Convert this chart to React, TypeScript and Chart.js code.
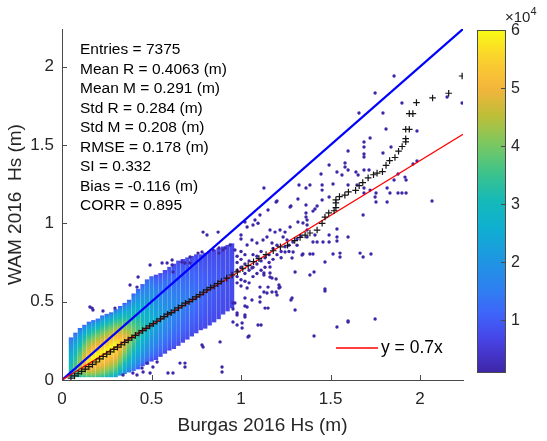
import React, { useEffect, useRef } from "react";
import { Chart, registerables } from "chart.js";

Chart.register(...registerables);

// ---------------- data ----------------
const X_TICKS = [0, 0.5, 1, 1.5, 2];
const Y_TICKS = [0, 0.5, 1, 1.5, 2];
const CB_TICKS = [1, 2, 3, 4, 5, 6];
const AXIS_MAX = 2.24;
const CB_MIN = 0.1; // x 10^4
const CB_MAX = 6.0; // x 10^4
const REF_SLOPE = 0.7;

const X_TITLE = "Burgas 2016 Hs (m)";
const Y_TITLE = "WAM 2016  Hs (m)";
const LEGEND_LABEL = "y = 0.7x";

const statsLines = [
  "Entries = 7375",
  "Mean R = 0.4063 (m)",
  "Mean M = 0.291 (m)",
  "Std R = 0.284 (m)",
  "Std M = 0.208 (m)",
  "RMSE = 0.178 (m)",
  "SI = 0.332",
  "Bias = -0.116 (m)",
  "CORR = 0.895",
];

// dense columns (observed value bins): extent, density peak position and density (x10^4)
const colX = [0.05, 0.075, 0.1, 0.125, 0.15, 0.175, 0.2, 0.225, 0.25, 0.275, 0.3, 0.325, 0.35, 0.375, 0.4, 0.425, 0.45, 0.475, 0.5, 0.525, 0.55, 0.575, 0.6, 0.625, 0.65, 0.675, 0.7, 0.725, 0.75, 0.775, 0.8, 0.825, 0.85, 0.875, 0.9, 0.925, 0.95];
const colLo = [0.02, 0.02, 0.02, 0.02, 0.02, 0.02, 0.02, 0.02, 0.02, 0.02, 0.02, 0.03, 0.04, 0.05, 0.06, 0.07, 0.09, 0.10, 0.12, 0.13, 0.15, 0.17, 0.19, 0.20, 0.22, 0.24, 0.26, 0.28, 0.30, 0.32, 0.33, 0.35, 0.37, 0.39, 0.42, 0.44, 0.46];
const colHi = [0.27, 0.30, 0.33, 0.35, 0.37, 0.38, 0.39, 0.41, 0.42, 0.43, 0.45, 0.47, 0.49, 0.51, 0.55, 0.58, 0.61, 0.64, 0.66, 0.67, 0.68, 0.70, 0.72, 0.74, 0.76, 0.77, 0.78, 0.79, 0.80, 0.80, 0.81, 0.82, 0.83, 0.84, 0.85, 0.86, 0.87];
const colPeakY = [0.07, 0.08, 0.09, 0.11, 0.12, 0.14, 0.16, 0.17, 0.19, 0.21, 0.22, 0.24, 0.26, 0.28, 0.30, 0.32, 0.33, 0.35, 0.37, 0.39, 0.40, 0.42, 0.44, 0.46, 0.47, 0.49, 0.51, 0.53, 0.54, 0.56, 0.58, 0.60, 0.61, 0.63, 0.65, 0.67, 0.68];
const colPeakD = [3.2, 3.8, 4.5, 5.2, 5.8, 6.0, 6.0, 6.0, 6.0, 6.0, 6.0, 5.6, 5.1, 4.6, 4.1, 3.7, 3.3, 3.0, 2.7, 2.5, 2.3, 2.1, 1.95, 1.8, 1.7, 1.6, 1.5, 1.4, 1.3, 1.2, 1.1, 1.05, 1.0, 0.95, 0.9, 0.85, 0.8];
const colLoD = [2.8, 3.0, 3.2, 3.4, 3.5, 3.5, 3.4, 3.2, 3.0, 2.7, 2.4, 2.0, 1.7, 1.4, 1.2, 1.0, 0.9, 0.8, 0.7, 0.7, 0.7, 0.7, 0.7, 0.7, 0.7, 0.7, 0.7, 0.7, 0.7, 0.7, 0.7, 0.7, 0.7, 0.7, 0.7, 0.7, 0.7];
const colHiD = [1.2, 1.2, 1.2, 1.2, 1.2, 1.2, 1.2, 1.2, 1.2, 1.2, 1.2, 1.0, 1.0, 1.0, 1.0, 1.0, 1.0, 1.0, 1.0, 0.7, 0.7, 0.7, 0.7, 0.7, 0.7, 0.7, 0.7, 0.7, 0.7, 0.7, 0.7, 0.7, 0.7, 0.7, 0.7, 0.7, 0.7];

// sparse points
const outliers: [number, number][] = [
  [1.855, 1.94], [1.749, 1.832], [1.659, 1.704], [1.899, 1.768], [2.235, 1.768], [2.151, 1.806], [1.793, 1.704], [1.81, 1.602], [1.983, 1.589], [1.721, 1.544], [1.687, 1.519], [1.687, 1.487], [1.598, 1.461], [1.687, 1.442], [1.687, 1.423], [1.793, 1.449], [1.838, 1.487], [1.492, 1.372], [1.581, 1.385], [1.581, 1.359], [1.447, 1.315], [1.536, 1.327], [1.598, 1.34], [1.642, 1.327], [1.654, 1.308], [1.687, 1.34], [1.715, 1.34], [1.564, 1.308], [1.961, 1.378], [1.983, 1.398], [1.877, 1.315], [1.916, 1.295], [1.922, 1.276], [1.855, 1.276], [1.363, 1.225], [1.385, 1.244], [1.324, 1.244], [1.453, 1.244], [1.453, 1.212], [1.514, 1.251], [1.598, 1.244], [1.648, 1.244], [1.687, 1.225], [1.687, 1.193], [1.721, 1.212], [1.754, 1.193], [1.754, 1.136], [1.816, 1.225], [1.816, 1.136], [1.832, 1.193], [1.877, 1.193], [1.899, 1.193], [1.922, 1.193], [2.067, 1.142], [1.749, 1.168], [1.274, 1.104], [1.318, 1.155], [1.363, 1.117], [1.425, 1.11], [1.201, 1.142], [1.363, 1.066], [1.363, 1.04], [1.402, 1.078], [1.682, 1.053],
  [1.682, 0.785], [1.726, 0.804], [1.665, 0.81], [1.514, 0.804], [1.553, 0.81], [1.553, 0.785], [1.402, 0.804], [1.385, 0.804], [1.346, 0.804], [1.598, 0.913], [1.536, 0.913], [1.492, 0.925], [1.492, 0.881], [1.458, 0.881], [1.425, 0.881], [1.402, 0.881], [1.369, 0.913], [1.413, 0.925], [1.369, 0.957], [1.369, 0.989], [1.369, 1.021], [1.413, 1.091], [1.453, 1.149], [1.492, 1.168],
  [1.469, 0.581], [1.469, 0.568], [1.279, 0.511], [1.302, 0.447], [1.385, 0.67], [1.408, 0.689], [1.536, 0.338], [1.598, 0.377], [1.598, 0.37], [1.749, 0.389], [1.408, 0.281], [1.045, 0.281], [1.112, 0.351], [1.151, 0.459], [1.106, 0.53], [1.106, 0.498], [1.128, 0.562], [1.173, 0.562], [1.196, 0.562], [1.212, 0.606], [1.212, 0.587], [1.173, 0.651], [1.196, 0.645], [1.151, 0.593], [1.128, 0.683], [1.128, 0.67], [1.302, 0.689], [1.022, 0.523], [1.022, 0.472], [1.022, 0.415], [1.006, 0.364], [1.006, 0.332], [0.978, 0.351], [0.955, 0.37], [0.978, 0.415], [0.955, 0.453], [0.955, 0.491], [1.536, 0.964], [1.536, 0.887], [1.469, 0.753],
  [1.128, 1.225], [1.196, 1.136], [1.151, 1.085], [1.279, 1.11], [1.318, 1.008], [1.346, 1.002], [1.106, 1.053], [1.078, 1.021], [1.067, 0.989], [1.022, 1.008], [1.034, 0.976], [1.0, 0.925], [1.0, 0.9], [1.162, 0.957], [1.19, 0.944], [1.218, 0.957], [1.246, 0.944], [1.274, 0.976], [0.911, 0.842], [0.939, 0.862], [0.966, 0.83], [1.145, 0.913], [1.123, 0.893], [1.173, 0.874], [1.235, 0.913], [1.257, 0.893], [1.061, 0.893], [1.089, 0.874], [1.034, 0.862], [1.291, 0.817], [1.246, 0.817], [1.285, 0.779], [1.341, 0.798], [1.162, 0.683], [1.162, 0.657], [1.218, 0.593], [1.106, 0.593], [1.201, 0.542], [1.285, 0.523], [1.145, 0.555], [1.061, 0.511], [1.034, 0.587], [1.034, 0.466], [0.966, 0.491], [0.978, 0.428], [1.022, 0.402], [1.134, 0.459], [1.162, 0.721], [1.061, 0.715], [0.978, 0.7],
  [0.978, 0.62], [0.978, 0.66], [0.978, 0.75], [0.978, 0.79], [1.0, 0.6], [1.0, 0.64], [1.0, 0.72], [1.0, 0.77], [1.0, 0.82], [1.022, 0.63], [1.022, 0.68], [1.022, 0.74], [1.022, 0.8], [1.045, 0.62], [1.045, 0.7], [1.045, 0.76], [1.067, 0.66], [1.067, 0.72], [1.067, 0.8], [1.089, 0.68], [1.089, 0.74], [1.089, 0.79], [1.112, 0.7], [1.112, 0.76], [1.112, 0.82], [1.134, 0.72], [1.134, 0.78], [1.157, 0.75], [1.157, 0.8], [1.179, 0.77], [1.179, 0.84], [1.201, 0.8], [1.201, 0.86], [1.224, 0.82], [1.224, 0.78], [1.246, 0.85], [1.268, 0.86], [1.268, 0.82], [1.29, 0.88], [1.313, 0.9], [1.313, 0.86], [1.335, 0.92],
  [0.788, 0.944], [0.81, 0.925], [0.872, 0.944], [0.492, 0.734], [0.559, 0.747], [0.587, 0.747], [0.615, 0.766], [0.615, 0.734], [0.62, 0.689], [0.67, 0.753], [0.687, 0.747], [0.715, 0.747], [0.715, 0.785], [0.76, 0.81], [0.782, 0.817], [0.844, 0.83], [0.877, 0.842], [0.877, 0.81], [0.899, 0.83], [1.095, 1.0], [0.156, 0.466], [0.173, 0.447], [0.168, 0.459], [0.229, 0.44], [0.296, 0.459], [0.38, 0.606], [0.425, 0.657], [0.419, 0.593],
  [0.687, 0.108], [0.687, 0.083], [0.659, 0.108], [0.62, 0.045], [0.592, 0.045], [0.894, 0.083], [0.894, 0.051], [0.883, 0.243], [0.782, 0.223], [0.788, 0.211], [0.475, 0.108], [0.508, 0.083], [0.531, 0.115], [0.447, 0.077], [0.453, 0.051], [0.492, 0.045], [1.039, 0.274], [1.095, 0.351], [0.396, 0.045], [0.419, 0.032], [0.341, 0.032],
];

// quantile-quantile crosses
const qqX = [0.05, 0.07, 0.09, 0.11, 0.13, 0.15, 0.17, 0.19, 0.21, 0.23, 0.25, 0.27, 0.29, 0.31, 0.33, 0.35, 0.37, 0.39, 0.41, 0.43, 0.45, 0.47, 0.49, 0.51, 0.53, 0.55, 0.57, 0.59, 0.61, 0.63, 0.65, 0.67, 0.69, 0.71, 0.73, 0.75, 0.77, 0.79, 0.81, 0.83, 0.85, 0.87, 0.89, 0.92, 0.95, 0.98, 1.01, 1.04, 1.07, 1.10, 1.14, 1.18, 1.22, 1.26, 1.30, 1.33, 1.358, 1.385, 1.425, 1.453, 1.469, 1.49, 1.52, 1.53, 1.53, 1.53, 1.55, 1.58, 1.60, 1.64, 1.66, 1.68, 1.71, 1.74, 1.76, 1.79, 1.81, 1.83, 1.86, 1.88, 1.90, 1.92, 1.92, 1.92, 1.94, 1.94, 1.96, 1.98, 2.07, 2.16, 2.235];
const qqY = [0.012, 0.026, 0.04, 0.055, 0.07, 0.085, 0.10, 0.115, 0.135, 0.15, 0.165, 0.18, 0.195, 0.21, 0.225, 0.24, 0.255, 0.27, 0.285, 0.30, 0.315, 0.33, 0.345, 0.36, 0.375, 0.39, 0.405, 0.42, 0.43, 0.445, 0.46, 0.475, 0.49, 0.50, 0.515, 0.53, 0.545, 0.56, 0.575, 0.59, 0.60, 0.615, 0.63, 0.65, 0.67, 0.69, 0.71, 0.73, 0.755, 0.775, 0.80, 0.825, 0.85, 0.86, 0.89, 0.91, 0.925, 0.938, 0.957, 1.0, 1.04, 1.066, 1.08, 1.10, 1.13, 1.15, 1.17, 1.18, 1.20, 1.21, 1.24, 1.26, 1.29, 1.31, 1.32, 1.33, 1.37, 1.40, 1.42, 1.46, 1.49, 1.52, 1.54, 1.60, 1.60, 1.70, 1.70, 1.77, 1.80, 1.83, 1.94];

// ---------------- styles ----------------
const FONT = "'Liberation Sans', Arial, Helvetica, sans-serif";
const AXIS_COLOR = "#4a4a4a";
const TEXT_COLOR = "#262626";
const DOT_COLOR = "rgb(62,38,168)";

const PARULA: [number, number, number, number][] = [
  [0.0, 62, 38, 168],
  [0.05, 68, 52, 200],
  [0.1, 71, 70, 232],
  [0.17, 62, 100, 250],
  [0.25, 45, 130, 240],
  [0.33, 30, 150, 225],
  [0.42, 15, 175, 210],
  [0.5, 20, 185, 185],
  [0.58, 60, 195, 140],
  [0.67, 125, 200, 95],
  [0.75, 190, 190, 55],
  [0.83, 245, 180, 60],
  [0.92, 250, 210, 45],
  [1.0, 249, 251, 20],
];

function parula(t: number): string {
  const tt = Math.max(0, Math.min(1, t));
  for (let i = 1; i < PARULA.length; i++) {
    if (tt <= PARULA[i][0]) {
      const a = PARULA[i - 1];
      const b = PARULA[i];
      const f = (tt - a[0]) / (b[0] - a[0]);
      const r = Math.round(a[1] + (b[1] - a[1]) * f);
      const g = Math.round(a[2] + (b[2] - a[2]) * f);
      const bl = Math.round(a[3] + (b[3] - a[3]) * f);
      return `rgb(${r},${g},${bl})`;
    }
  }
  return "rgb(249,251,20)";
}

function densityColor(d: number): string {
  return parula((d - CB_MIN) / (CB_MAX - CB_MIN));
}

function columnDensityAt(i: number, y: number): number {
  const lo = colLo[i], hi = colHi[i], pk = colPeakY[i], pd = colPeakD[i];
  if (y <= pk) {
    const t = pk > lo ? (y - lo) / (pk - lo) : 1;
    return colLoD[i] + (pd - colLoD[i]) * Math.pow(Math.max(0, t), 0.7);
  }
  const s = (hi - y) / (hi - pk);
  return colHiD[i] + (pd - colHiD[i]) * Math.pow(Math.max(0, s), 0.7);
}

const overlayPlugin = {
  id: "overlay",
  afterDraw(chart: any) {
    const { ctx, chartArea: a, scales } = chart;
    const xs = scales.x, ys = scales.y, cb = scales.cb;
    ctx.save();
    ctx.strokeStyle = AXIS_COLOR;
    ctx.lineWidth = 1;
    X_TICKS.forEach((v) => {
      const px = Math.round(xs.getPixelForValue(v)) + 0.5;
      ctx.beginPath();
      ctx.moveTo(px, a.bottom);
      ctx.lineTo(px, a.bottom - 5);
      ctx.stroke();
    });
    Y_TICKS.forEach((v) => {
      const py = Math.round(ys.getPixelForValue(v)) + 0.5;
      ctx.beginPath();
      ctx.moveTo(a.left, py);
      ctx.lineTo(a.left + 5, py);
      ctx.stroke();
    });

    ctx.fillStyle = "#000";
    ctx.font = `15.5px ${FONT}`;
    ctx.textAlign = "left";
    ctx.textBaseline = "middle";
    statsLines.forEach((s, i) => {
      ctx.fillText(s, a.left + 18, a.top + 21 + i * 19.5);
    });

    const ly = a.bottom - 32;
    ctx.strokeStyle = "#ff0000";
    ctx.lineWidth = 1.5;
    ctx.beginPath();
    ctx.moveTo(a.right - 127, ly);
    ctx.lineTo(a.right - 85, ly);
    ctx.stroke();
    ctx.fillStyle = "#000";
    ctx.font = `17.5px ${FONT}`;
    ctx.fillText(LEGEND_LABEL, a.right - 82, ly);

    const top = cb.getPixelForValue(CB_MAX);
    const bot = cb.getPixelForValue(CB_MIN);
    const left = a.right + 14;
    const w = 28;
    const g = ctx.createLinearGradient(0, bot, 0, top);
    for (let i = 0; i <= 40; i++) g.addColorStop(i / 40, parula(i / 40));
    ctx.fillStyle = g;
    ctx.fillRect(left, top, w, bot - top);
    ctx.strokeStyle = AXIS_COLOR;
    ctx.lineWidth = 1;
    ctx.strokeRect(Math.round(left) + 0.5, Math.round(top) + 0.5, w, Math.round(bot - top));
    ctx.fillStyle = TEXT_COLOR;
    ctx.font = `16px ${FONT}`;
    ctx.textBaseline = "middle";
    CB_TICKS.forEach((v) => {
      const py = Math.round(cb.getPixelForValue(v)) + 0.5;
      ctx.beginPath();
      ctx.moveTo(left + w, py);
      ctx.lineTo(left + w - 4, py);
      ctx.stroke();
      ctx.fillText(String(v), left + w + 6, py);
    });
    ctx.textBaseline = "alphabetic";
    ctx.font = `15px ${FONT}`;
    ctx.fillText("\u00d710", left + w, top - 8);
    const wx = ctx.measureText("\u00d710").width;
    ctx.font = `11px ${FONT}`;
    ctx.fillText("4", left + w + wx, top - 15);
    ctx.restore();
  },
};

export default function App() {
  const ref = useRef<HTMLCanvasElement | null>(null);
  useEffect(() => {
    if (!ref.current) return;
    const barData = colX.map((x, i) => ({ x, y: [colLo[i], colHi[i]] }));
    const chart = new Chart(ref.current, {
      type: "scatter",
      data: {
        datasets: [
          {
            type: "scatter",
            label: "quantiles",
            data: qqX.map((x, i) => ({ x, y: qqY[i] })),
            pointStyle: "cross",
            pointRadius: 3.3,
            borderColor: "#151515",
            backgroundColor: "#151515",
            borderWidth: 1.2,
            order: 0,
          } as any,
          {
            type: "scatter",
            label: LEGEND_LABEL,
            data: [
              { x: 0, y: 0 },
              { x: AXIS_MAX, y: REF_SLOPE * AXIS_MAX },
            ],
            showLine: true,
            borderColor: "#ff0000",
            borderWidth: 1.2,
            pointRadius: 0,
            order: 1,
          } as any,
          {
            type: "scatter",
            label: "y = x",
            data: [
              { x: 0, y: 0 },
              { x: AXIS_MAX, y: AXIS_MAX },
            ],
            showLine: true,
            borderColor: "#0000ff",
            borderWidth: 2.2,
            pointRadius: 0,
            order: 2,
          } as any,
          {
            type: "scatter",
            label: "points",
            data: outliers.map(([x, y]) => ({ x, y })),
            pointStyle: "circle",
            pointRadius: 1.7,
            borderWidth: 0,
            backgroundColor: DOT_COLOR,
            order: 3,
          } as any,
          {
            type: "bar",
            label: "density",
            data: barData,
            barThickness: 3.7,
            borderWidth: 0,
            grouped: false,
            order: 4,
            backgroundColor: (c: any) => {
              if (c.type !== "data") return DOT_COLOR;
              const chart = c.chart;
              const ys = chart.scales && chart.scales.y;
              if (!ys) return DOT_COLOR;
              const i = c.dataIndex;
              const pLo = ys.getPixelForValue(colLo[i]);
              const pHi = ys.getPixelForValue(colHi[i]);
              if (!isFinite(pLo) || !isFinite(pHi) || pLo === pHi) return DOT_COLOR;
              const g = chart.ctx.createLinearGradient(0, pLo, 0, pHi);
              const N = 30;
              for (let k = 0; k <= N; k++) {
                const y = colLo[i] + ((colHi[i] - colLo[i]) * k) / N;
                g.addColorStop(k / N, densityColor(columnDensityAt(i, y)));
              }
              return g;
            },
          } as any,
        ],
      },
      options: {
        responsive: false,
        animation: false,
        events: [],
        devicePixelRatio: 1,
        layout: { padding: { top: 29, left: 0, right: 0, bottom: 0 } },
        plugins: {
          legend: { display: false },
          tooltip: { enabled: false },
        },
        scales: {
          x: {
            type: "linear",
            position: "bottom",
            min: 0,
            max: AXIS_MAX,
            offset: false,
            grid: { display: false, drawTicks: false, offset: false },
            border: { display: true, color: AXIS_COLOR, width: 1 },
            afterBuildTicks: (s: any) => {
              s.ticks = X_TICKS.map((v) => ({ value: v }));
            },
            afterFit: (s: any) => {
              s.height = 61;
            },
            ticks: {
              padding: 9,
              color: TEXT_COLOR,
              font: { family: FONT, size: 17 },
              maxRotation: 0,
              callback: (v: any) => String(v),
            },
            title: {
              display: true,
              text: X_TITLE,
              color: TEXT_COLOR,
              font: { family: FONT, size: 19 },
              padding: { top: 0, bottom: 4 },
            },
          },
          y: {
            type: "linear",
            position: "left",
            min: 0,
            max: AXIS_MAX,
            beginAtZero: true,
            grid: { display: false, drawTicks: false },
            border: { display: true, color: AXIS_COLOR, width: 1 },
            afterBuildTicks: (s: any) => {
              s.ticks = Y_TICKS.map((v) => ({ value: v }));
            },
            afterFit: (s: any) => {
              s.width = 62;
            },
            ticks: {
              padding: 8,
              color: TEXT_COLOR,
              font: { family: FONT, size: 17 },
              callback: (v: any) => String(v),
            },
            title: {
              display: true,
              text: Y_TITLE,
              color: TEXT_COLOR,
              font: { family: FONT, size: 19 },
              padding: { top: 4, bottom: 0 },
            },
          },
          cb: {
            type: "linear",
            axis: "y",
            position: "right",
            min: -0.034,
            max: 6.018,
            grid: { display: false, drawTicks: false },
            border: { display: false },
            ticks: { display: false },
            afterFit: (s: any) => {
              s.width = 84;
            },
          },
        },
      } as any,
      plugins: [overlayPlugin],
    });
    return () => chart.destroy();
  }, []);

  return (
    <div style={{ position: "fixed", left: 0, top: 0, width: 547, height: 441, background: "#fff" }}>
      <canvas ref={ref} width={547} height={441} style={{ display: "block" }} />
    </div>
  );
}
